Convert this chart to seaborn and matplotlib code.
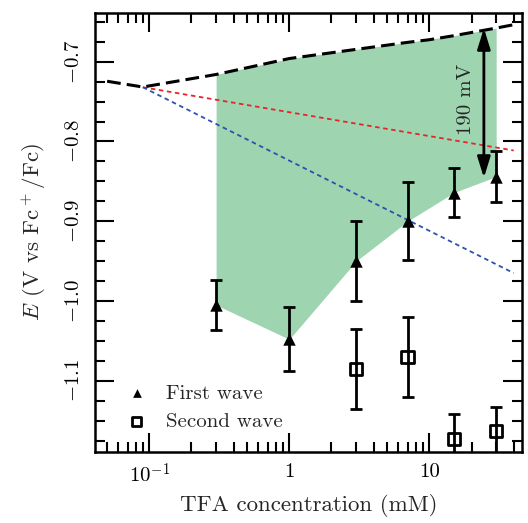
import numpy as np
import seaborn as sns
import matplotlib.pyplot as plt

# data
conc = [0.3, 1, 3, 7, 15, 30]
first_wave = [-1.005, -1.048, -0.950, -0.900, -0.864, -0.844]
first_err = [0.031, 0.040, 0.050, 0.049, 0.031, 0.032]

conc2 = [3, 7, 15, 30]
second_wave = [-1.085, -1.070, -1.173, -1.163]
second_err = [0.050, 0.050, 0.031, 0.030]

# upper bound (black dashed)
bound_x = [0.05, 0.09, 0.3, 1, 3, 7, 10, 15, 30, 40]
bound_y = [-0.7245, -0.7317, -0.716, -0.696, -0.6845, -0.6757, -0.6724, -0.6673, -0.6578, -0.6536]
bound_at_conc = [-0.716, -0.696, -0.6845, -0.6757, -0.6673, -0.6578]

red_x = [0.09, 40]
red_y = [-0.732, -0.8113]
blue_x = [0.09, 40]
blue_y = [-0.732, -0.965]

sns.set_style("ticks")
plt.rcParams["font.family"] = "serif"
plt.rcParams["font.serif"] = ["cmr10", "DejaVu Serif"]
plt.rcParams["mathtext.fontset"] = "cm"
plt.rcParams["axes.formatter.use_mathtext"] = True
plt.rcParams["axes.edgecolor"] = "k"
plt.rcParams["xtick.color"] = "k"
plt.rcParams["ytick.color"] = "k"

fig, ax = plt.subplots(figsize=(5.28, 5.23), dpi=100)
fig.subplots_adjust(left=0.18, right=0.989, bottom=0.1363, top=0.975)

ax.fill_between(conc, first_wave, bound_at_conc, color="#9fd4b1", lw=0, zorder=1)

sns.lineplot(x=bound_x, y=bound_y, ax=ax, color="k", lw=2.2, zorder=4)
ax.lines[-1].set_dashes((4.5, 2))
sns.lineplot(x=red_x, y=red_y, ax=ax, color="#e8232b", lw=1.3, zorder=3)
ax.lines[-1].set_dashes((2.5, 2))
sns.lineplot(x=blue_x, y=blue_y, ax=ax, color="#2a52b0", lw=1.3, zorder=3)
ax.lines[-1].set_dashes((2.5, 2))

ax.errorbar(conc, first_wave, yerr=first_err, fmt="none", ecolor="k",
            elinewidth=2, capsize=4.5, capthick=2, zorder=5)
ax.errorbar(conc2, second_wave, yerr=second_err, fmt="none", ecolor="k",
            elinewidth=2, capsize=4.5, capthick=2, zorder=5)
sns.scatterplot(x=conc, y=first_wave, ax=ax, marker="^", color="k", s=80,
                edgecolor="k", linewidth=0, label="First wave", zorder=6)
sns.scatterplot(x=conc2, y=second_wave, ax=ax, marker="s", s=80,
                facecolor="none", edgecolor="k", linewidth=2,
                label="Second wave", zorder=6)

ax.annotate("", xy=(24.5, -0.658), xytext=(24.5, -0.8455),
            arrowprops=dict(arrowstyle="<|-|>,head_length=0.9,head_width=0.28",
                            color="k", lw=2, mutation_scale=14,
                            shrinkA=0, shrinkB=0), zorder=7)
ax.text(18.4, -0.7476, "190 mV", rotation=90, ha="center", va="center",
        fontsize=15)

ax.set_xscale("log")
ax.set_xlim(0.041, 46)
ax.set_ylim(-1.189, -0.639)
ax.set_xticks([0.1, 1, 10])
ax.set_xticklabels(["$10^{-1}$", "1", "10"])
yt = [-1.1, -1.0, -0.9, -0.8, -0.7]
ax.set_yticks(yt)
ax.set_yticklabels(["$-1.1$", "$-1.0$", "$-0.9$", "$-0.8$", "$-0.7$"],
                   rotation=90, va="center")
ax.set_yticks(np.arange(-1.175, -0.64, 0.025), minor=True)

ax.tick_params(which="both", direction="in", top=True, right=True, width=1.5,
               labelsize=15)
ax.tick_params(which="major", length=14)
ax.tick_params(which="minor", length=7)
ax.tick_params(axis="x", pad=8)
ax.tick_params(axis="y", pad=9)
for s in ax.spines.values():
    s.set_linewidth(1.8)

ax.set_xlabel("TFA concentration (mM)", fontsize=16.5, labelpad=5)
ax.set_ylabel(r"$E$ (V vs Fc$^+$/Fc)", fontsize=16.5, labelpad=12)

ax.legend(loc="lower left", frameon=False, fontsize=15, markerscale=0.7,
          handletextpad=0.4, borderaxespad=0.6, labelspacing=0.45,
          bbox_to_anchor=(0.0, 0.0))

plt.savefig("out.png", dpi=100)
